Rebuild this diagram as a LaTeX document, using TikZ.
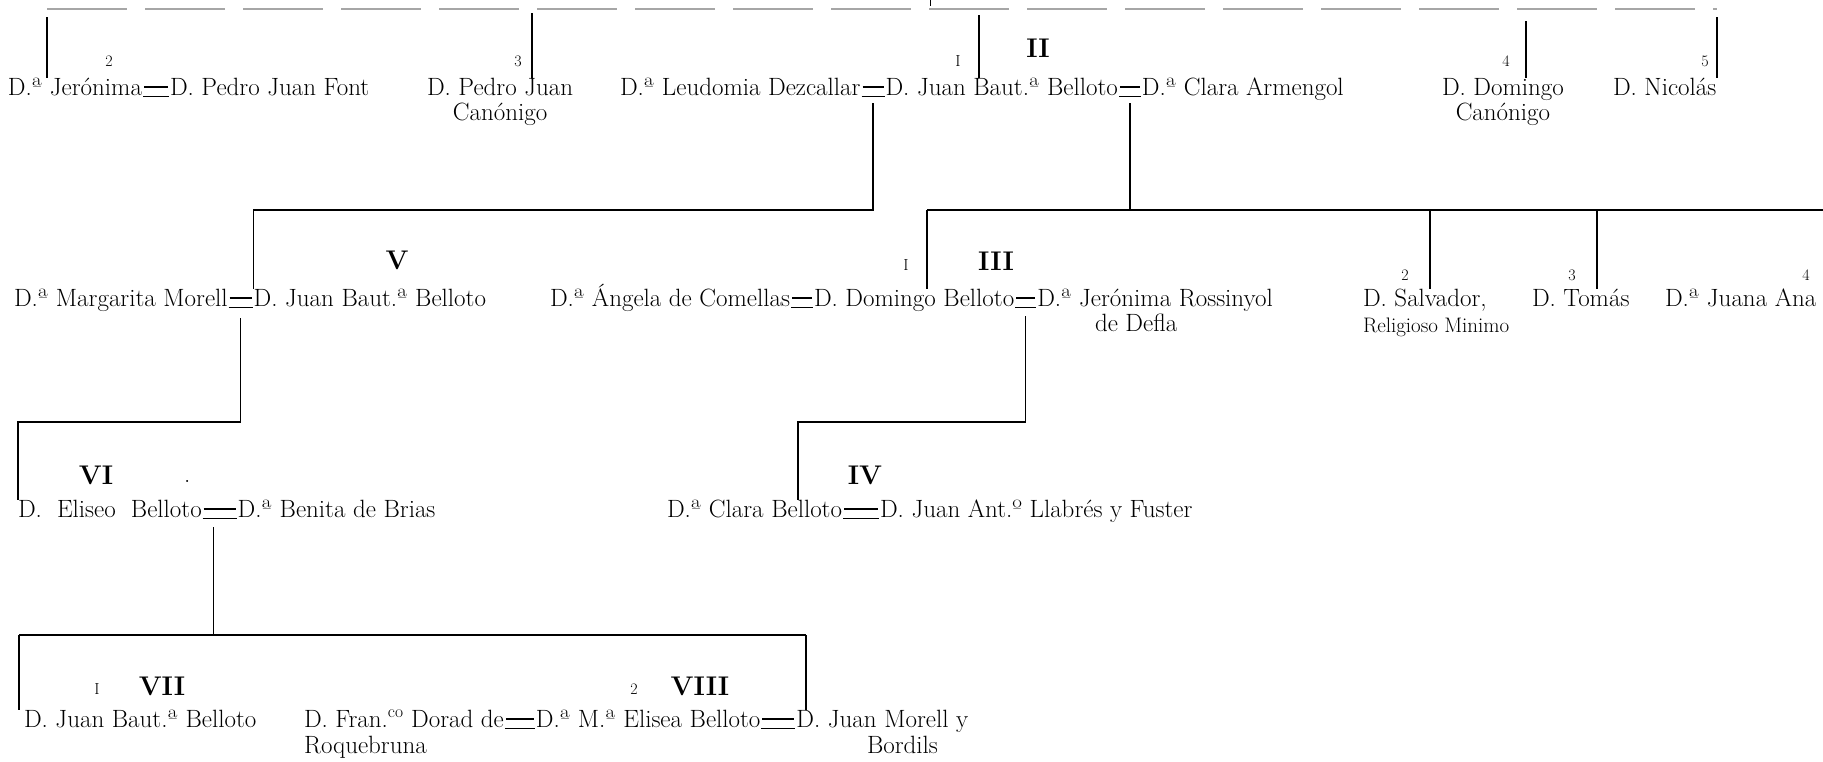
\documentclass[tikz,border=0pt]{standalone}
\usetikzlibrary{calc}
\newcommand\wed[2]{%
  \draw[link] ([xshift=2pt,yshift=8pt]#1.base east) -- ([xshift=-2pt,yshift=8pt]#2.base west);
  \draw[link] ([xshift=1pt,yshift=-1.5pt]#1.base east) -- ([xshift=-1pt,yshift=-1.5pt]#2.base west);}
\begin{document}
\begin{tikzpicture}[x=1pt,y=-1pt,
  per/.style={anchor=base west,inner sep=0pt,outer sep=0pt,font=\fontsize{25}{30}\selectfont},
  perc/.style={per,anchor=base},
  note/.style={anchor=base west,inner sep=0pt,outer sep=0pt,font=\fontsize{21}{24}\selectfont},
  num/.style={anchor=base,inner sep=0pt,outer sep=0pt,font=\fontsize{16}{16}\selectfont},
  gen/.style={anchor=base,inner sep=0pt,outer sep=0pt,font=\fontsize{27}{27}\selectfont\bfseries},
  link/.style={line width=1.3pt,black},
  faint/.style={line width=1.2pt,black!35,dash pattern=on 80pt off 18pt}]
\fill[white] (0,0) rectangle (1823,761);
\useasboundingbox (0,0) rectangle (1823,761);

% ---------- row 1 ----------
\node[per] (jer) at (8,95) {D.ª Jerónima};
\node[per] (pjf) at ([xshift=28pt]jer.base east) {D. Pedro Juan Font};
\node[per] (pj) at (427,95) {D. Pedro Juan};
\node[perc] (pjc) at ($(pj.base)+(0,25)$) {Canónigo};
\node[per] (leu) at (620,95) {D.ª Leudomia Dezcallar};
\node[per] (jb2) at ([xshift=25pt]leu.base east) {D. Juan Baut.ª Belloto};
\node[per] (cla) at ([xshift=24pt]jb2.base east) {D.ª Clara Armengol};
\node[per] (dom) at (1442,95) {D. Domingo};
\node[perc] (domc) at ($(dom.base)+(0,25)$) {Canónigo};
\node[per] (nic) at (1613,95) {D. Nicolás};

\node[num] (n2a) at (109,66) {2};
\node[num] (n3a) at (518,66) {3};
\node[num] (n1a) at (958,66) {I};
\node[gen] (g2) at (1038,57) {II};
\node[num] (n4a) at (1506,66) {4};
\node[num] (n5a) at (1705,66) {5};

\coordinate (t1) at (47,9);
\coordinate (t3) at (532,9);
\coordinate (t2) at (979,9);
\coordinate (t4) at (1526,9);
\coordinate (t5) at (1717,9);
\coordinate (tk) at (930,0);
\draw[faint] (t1) -- (t5);
\draw[link,line width=1pt] (tk) -- ++(0,6);
\draw[link,line width=1.1pt] ([yshift=-8pt]t1) -- (t1 |- jer.north);
\draw[link,line width=1.1pt] ([yshift=-4pt]t3) -- (t3 |- pj.north);
\draw[link,line width=1.1pt] ([yshift=-6pt]t2) -- (t2 |- jb2.north);
\draw[link,line width=1.1pt] ([yshift=-12pt]t4) -- (t4 |- dom.north);
\draw[link,line width=1.1pt] ([yshift=-8pt]t5) -- (t5 |- nic.north);

\wed{jer}{pjf}
\wed{leu}{jb2}
\wed{jb2}{cla}

% ---------- row 2 ----------
\coordinate (r2) at (0,210);
\node[per] (mar) at (14,306) {D.ª Margarita Morell};
\node[per] (jb5) at ([xshift=26pt]mar.base east) {D. Juan Baut.ª Belloto};
\node[gen] (g5) at (397,269) {V};
\node[per] (ang) at (550,306) {D.ª Ángela de Comellas};
\node[per] (domb) at ([xshift=24pt]ang.base east) {D. Domingo Belloto};
\node[per] (jro) at ([xshift=23pt]domb.base east) {D.ª Jerónima Rossinyol};
\node[per] (jrob) at (1095,331) {de Defla};
\node[num] (n1b) at (906,270) {I};
\node[gen] (g3) at (996,270) {III};
\node[per] (sal) at (1363,306) {D. Salvador,};
\node[note] (salb) at (1363,332) {Religioso Minimo};
\node[num] (n2b) at (1405,280) {2};
\node[per] (tom) at (1532,306) {D. Tomás};
\node[num] (n3b) at (1572,280) {3};
\node[per] (jua) at (1665,306) {D.ª Juana Ana};
\node[num] (n4b) at (1806,280) {4};

\coordinate (m1) at ($(leu.base east)!0.5!(jb2.base west)$);
\coordinate (m2) at ($(jb2.base east)!0.5!(cla.base west)$);
\draw[link] ([yshift=-8pt]m1) -- (m1 |- r2) -- (jb5.base west |- r2) -- (jb5.base west |- jb5.north);
\coordinate (c3) at (927,210);
\coordinate (c2) at (1430,210);
\coordinate (c4) at (1597,210);
\coordinate (c9) at (1823,210);
\draw[link] ([yshift=-8pt]m2) -- (m2 |- r2);
\draw[link] (c3) -- (c9);
\draw[link] (c3) -- (c3 |- domb.north);
\draw[link] (c2) -- (c2 |- sal.north);
\draw[link] (c4) -- (c4 |- tom.north);

\wed{mar}{jb5}
\wed{ang}{domb}
\wed{domb}{jro}

% ---------- row 3 ----------
\coordinate (r3) at (0,422);
\node[per] (eli) at (18,517) {D.\ \ Eliseo\ \ Belloto};
\node[per] (ben) at ([xshift=36pt]eli.base east) {D.ª Benita de Brias};
\node[gen] (g6) at (96,484) {VI};
\node[per] (dot) at (184,482) {.};
\node[per] (cb) at (667,517) {D.ª Clara Belloto};
\node[per] (jal) at ([xshift=38pt]cb.base east) {D. Juan Ant.º Llabrés y Fuster};
\node[gen] (g4) at (865,484) {IV};

\coordinate (m3) at ($(mar.base east)!0.5!(jb5.base west)$);
\draw[link] ([yshift=-12pt]m3) -- (m3 |- r3) -- (eli.base west |- r3) -- (eli.base west |- eli.north);
\coordinate (m4) at ($(domb.base east)!0.5!(jro.base west)$);
\coordinate (c5) at (798,422);
\draw[link] ([yshift=-10pt]m4) -- (m4 |- r3) -- (c5) -- (c5 |- cb.north);

\wed{eli}{ben}
\wed{cb}{jal}

% ---------- row 4 ----------
\coordinate (r4) at (0,635);
\node[per] (jb7) at (24,727) {D. Juan Baut.ª Belloto};
\node[num] (n1d) at (97,694) {I};
\node[gen] (g7) at (162,695) {VII};
\node[per] (fra) at (304,727) {D. Fran.\textsuperscript{co} Dorad de};
\node[per] (frab) at (304,753) {Roquebruna};
\node[per] (eli8) at ([xshift=32pt]fra.base east) {D.ª M.ª Elisea Belloto};
\node[num] (n2d) at (634,694) {2};
\node[gen] (g8) at (700,695) {VIII};
\node[per] (jm) at ([xshift=36pt]eli8.base east) {D. Juan Morell y};
\node[per] (jmb) at (867,753) {Bordils};

\coordinate (m5) at ($(eli.base east)!0.5!(ben.base west)$);
\coordinate (c6) at (19,635);
\coordinate (c7) at (806,635);
\draw[link] ([xshift=-6pt,yshift=-10pt]m5) -- ([xshift=-6pt]m5 |- r4);
\draw[link] (c6) -- (c7);
\draw[link] (c6) -- (c6 |- jb7.north);
\draw[link] (c7) -- (c7 |- eli8.north);

\wed{fra}{eli8}
\wed{eli8}{jm}
\end{tikzpicture}
\end{document}
